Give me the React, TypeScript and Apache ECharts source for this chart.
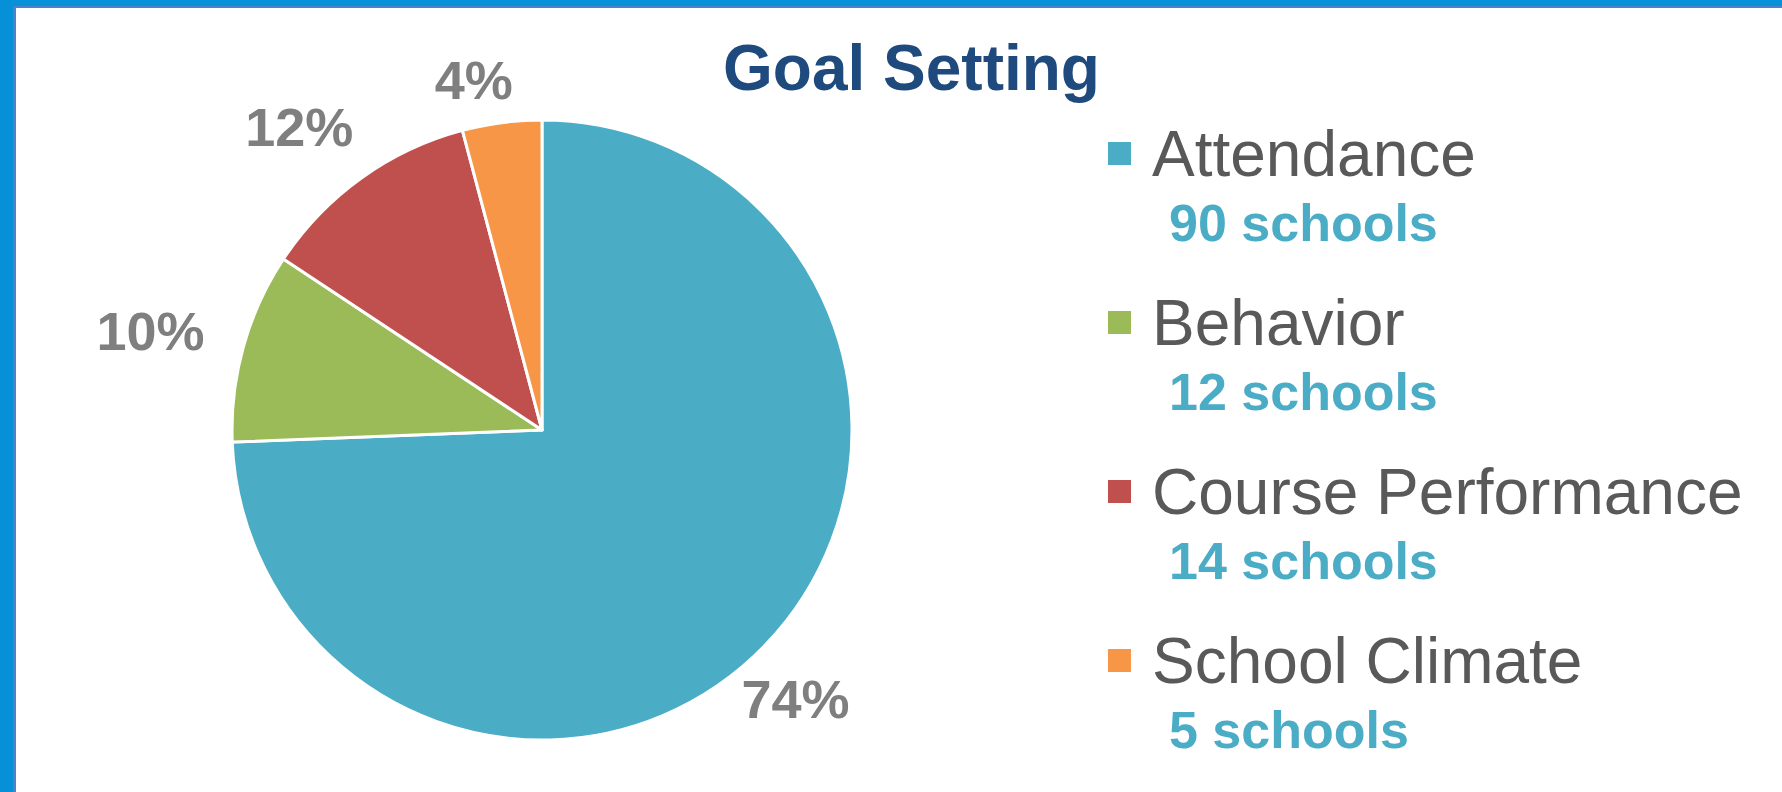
import React, { useEffect, useRef } from "react";
import * as echarts from "echarts";

const titleText = "Goal Setting";
const categories = ["Attendance", "Behavior", "Course Performance", "School Climate"];
const schoolCounts = [90, 12, 14, 5];
const countSuffix = "schools";
const sliceColors = ["#4BACC6", "#9BBB59", "#C0504D", "#F79646"];

const FONT = "'Liberation Sans', Arial, Helvetica, sans-serif";

export default function App() {
  const ref = useRef<HTMLDivElement>(null);

  useEffect(() => {
    if (!ref.current) return;
    const chart = echarts.init(ref.current, null, { renderer: "svg" });

    const cx = 542;
    const cy = 430;
    const R = 310;
    const gap = 14;
    // label anchor slightly offset from the pie centre (mimics the source's label placement)
    const lcx = cx - 22;
    const lcy = cy + 4;
    const total = schoolCounts.reduce((a, b) => a + b, 0);
    const midAngles: number[] = [];
    let acc = 0;
    schoolCounts.forEach((v) => {
      midAngles.push(((acc + v / 2) / total) * 2 * Math.PI);
      acc += v;
    });

    chart.setOption({
      animation: false,
      backgroundColor: "#ffffff",
      title: {
        text: titleText,
        left: 723,
        top: 36,
        padding: 0,
        textStyle: {
          fontFamily: FONT,
          fontSize: 64,
          fontWeight: "bold",
          color: "#1F4A7D",
        },
      },
      legend: {
        orient: "vertical",
        left: 1106,
        top: 79,
        padding: 0,
        itemWidth: 25,
        itemHeight: 25,
        itemGap: -1,
        icon: "rect",
        selectedMode: false,
        data: categories,
        formatter: (name: string) => {
          const i = categories.indexOf(name);
          return `{pad| }\n{name|${name}}\n{val|${schoolCounts[i]} ${countSuffix}}`;
        },
        textStyle: {
          fontFamily: FONT,
          rich: {
            pad: { fontSize: 10, lineHeight: 73 },
            name: {
              fontFamily: FONT,
              fontSize: 64,
              lineHeight: 66,
              color: "#595959",
              padding: [0, 0, 0, 15],
            },
            val: {
              fontFamily: FONT,
              fontSize: 52,
              fontWeight: "bold",
              lineHeight: 73,
              color: "#4BACC6",
              padding: [0, 0, 0, 32],
            },
          },
        },
      },
      graphic: [
        { type: "rect", z: 100, shape: { x: 0, y: 0, width: 1782, height: 6 }, style: { fill: "#0891D8" } },
        { type: "rect", z: 100, shape: { x: 0, y: 6, width: 1782, height: 2 }, style: { fill: "#4A84C6" } },
        { type: "rect", z: 101, shape: { x: 0, y: 0, width: 13, height: 792 }, style: { fill: "#0690D8" } },
        { type: "rect", z: 101, shape: { x: 13, y: 6, width: 3, height: 786 }, style: { fill: "#4A84C6" } },
      ],
      series: [
        {
          type: "pie",
          center: [cx, cy],
          radius: R,
          startAngle: 90,
          clockwise: true,
          avoidLabelOverlap: false,
          itemStyle: { borderColor: "#ffffff", borderWidth: 3 },
          data: categories.map((name, i) => ({
            name,
            value: schoolCounts[i],
            itemStyle: { color: sliceColors[i] },
          })),
          label: {
            show: true,
            position: "outside",
            fontFamily: FONT,
            fontSize: 54,
            fontWeight: "bold",
            color: "#7F7F7F",
            formatter: (p: any) => `${Math.round(p.percent)}%`,
          },
          labelLine: { show: false },
          labelLayout: (p: any) => {
            const a = midAngles[p.dataIndex];
            const dx = Math.sin(a);
            const dy = -Math.cos(a);
            const w = p.labelRect.width;
            const dist = R + gap + Math.abs(dx) * (w / 2) + Math.abs(dy) * 28;
            return {
              x: lcx + dx * dist,
              y: lcy + dy * dist,
              align: "center",
              verticalAlign: "middle",
            };
          },
          emphasis: { disabled: true },
        },
      ],
    });

    return () => chart.dispose();
  }, []);

  return (
    <div
      ref={ref}
      style={{ position: "absolute", left: 0, top: 0, width: 1782, height: 792 }}
    />
  );
}
